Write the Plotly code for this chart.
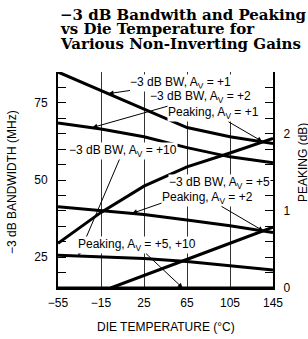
import plotly.graph_objects as go

# ---- data ----
temp = [-55, -15, 25, 65, 105, 145]
bw_av1 = [85.0, 79.0, 73.0, 67.0, 64.0, 61.8]
bw_av2 = [68.5, 66.5, 64.0, 60.5, 57.5, 55.6]
bw_av5 = [41.3, 40.0, 38.8, 37.0, 35.2, 33.0]
bw_av10 = [25.6, 25.2, 24.6, 23.6, 22.3, 20.8]
pk_av1 = [0.58, 0.98, 1.32, 1.57, 1.75, 1.94]
temp_pk2 = [-6, 25, 65, 105, 145]
pk_av2 = [0.0, 0.16, 0.37, 0.58, 0.79]
pk_av5_10 = [0, 0, 0, 0, 0, 0]

x_ticks = [-55, -15, 25, 65, 105, 145]
x_ticktext = ["\u221255", "\u221215", "25", "65", "105", "145"]

FONT = "Liberation Sans, Arial, sans-serif"
line = dict(color="black", width=3)

fig = go.Figure()
for yv in (bw_av1, bw_av2, bw_av5, bw_av10):
    fig.add_trace(go.Scatter(x=temp, y=yv, mode="lines", line=line, yaxis="y", showlegend=False))
fig.add_trace(go.Scatter(x=temp, y=pk_av1, mode="lines", line=line, yaxis="y2", showlegend=False))
fig.add_trace(go.Scatter(x=temp_pk2, y=pk_av2, mode="lines", line=line, yaxis="y2", showlegend=False))
fig.add_trace(go.Scatter(x=temp, y=pk_av5_10, mode="lines", line=line, yaxis="y2", showlegend=False))

fig.update_layout(
    width=308, height=339,
    margin=dict(l=58, r=35, t=72, b=51),
    paper_bgcolor="white", plot_bgcolor="white",
    font=dict(family=FONT, size=11, color="black"),
    xaxis=dict(range=[-55, 145], tickmode="array", tickvals=x_ticks, ticktext=x_ticktext,
               showgrid=True, gridcolor="#333", gridwidth=1, zeroline=False,
               showline=True, linecolor="black", linewidth=2, ticks="",
               ticklabelstandoff=3, tickfont=dict(size=12)),
    yaxis=dict(range=[15, 85], tickmode="linear", tick0=0, dtick=25,
               showgrid=False, zeroline=False, showline=True, linecolor="black", linewidth=2,
               ticks="inside", ticklen=8, tickcolor="black", tickwidth=1,
               minor=dict(dtick=5, tick0=0, ticks="inside", ticklen=8, tickcolor="black", tickwidth=1),
               ticklabelstandoff=6, tickfont=dict(size=12)),
    yaxis2=dict(range=[0, 2.8], overlaying="y", side="right", tickmode="linear", tick0=0, dtick=1,
                showgrid=False, zeroline=False, showline=True, linecolor="black", linewidth=2,
                ticks="inside", ticklen=8, tickcolor="black", tickwidth=1,
                minor=dict(dtick=0.2, tick0=0, ticks="inside", ticklen=8, tickcolor="black", tickwidth=1),
                ticklabelstandoff=6, tickfont=dict(size=12)),
)

# title lines
title_lines = ["\u22123 dB Bandwith and Peaking", "vs Die Temperature for", "Various Non-Inverting Gains"]
for i, t in enumerate(title_lines):
    fig.add_annotation(text="<b>" + t + "</b>", xref="paper", yref="paper",
                       x=(59 - 58) / 215, y=(288 - 14.5 - 15 * i) / 216,
                       xanchor="left", yanchor="middle", showarrow=False, borderpad=0,
                       font=dict(family="DejaVu Serif, serif", size=15, color="black"))

# axis titles
fig.add_annotation(text="\u22123 dB BANDWIDTH (MHz)", xref="paper", yref="paper",
                   x=(12 - 58) / 215, y=(288 - 182) / 216, textangle=-90, showarrow=False,
                   xanchor="center", yanchor="middle", font=dict(size=12))
fig.add_annotation(text="PEAKING (dB)", xref="paper", yref="paper",
                   x=(303 - 58) / 215, y=(288 - 163) / 216, textangle=-90, showarrow=False,
                   xanchor="center", yanchor="middle", font=dict(size=12))
fig.add_annotation(text="DIE TEMPERATURE (\u00b0C)", xref="paper", yref="paper",
                   x=(166 - 58) / 215, y=(288 - 327) / 216, showarrow=False,
                   xanchor="center", yanchor="middle", font=dict(size=12))

# curve labels with arrows: (text, tip x, tip y, text x, text y, axis)
labels = [
    ("\u22123 dB BW, A<sub>V</sub> = +1", -8, 78.0, 59.4, 81.4, "y"),
    ("\u22123 dB BW, A<sub>V</sub> = +2", -23, 67.0, 77.1, 76.9, "y"),
    ("Peaking, A<sub>V</sub> = +1", 135, 1.9, 90.1, (71.6 - 15) / 25, "y2"),
    ("\u22123 dB BW, A<sub>V</sub> = +10", -36, 25.5, 5.5, 59.4, "y"),
    ("\u22123 dB BW, A<sub>V</sub> = +5", 14, 39.2, 94.8, 49.0, "y"),
    ("Peaking, A<sub>V</sub> = +2", 136, 0.74, 83.6, (44.2 - 15) / 25, "y2"),
    ("Peaking, A<sub>V</sub> = +5, +10", 61, 0.0, 18.5, (28.9 - 15) / 25, "y2"),
]
for text, tx, ty, ax, ay, yr in labels:
    fig.add_annotation(text=text, x=tx, y=ty, ax=ax, ay=ay, xref="x", yref=yr,
                       axref="x", ayref=yr, showarrow=True, arrowhead=2, arrowsize=1,
                       arrowwidth=1, arrowcolor="black", bgcolor="white", borderpad=0,
                       font=dict(size=12))

fig.write_html("out.html", config={"displayModeBar": False},
               post_script="document.body.style.margin='0';")
